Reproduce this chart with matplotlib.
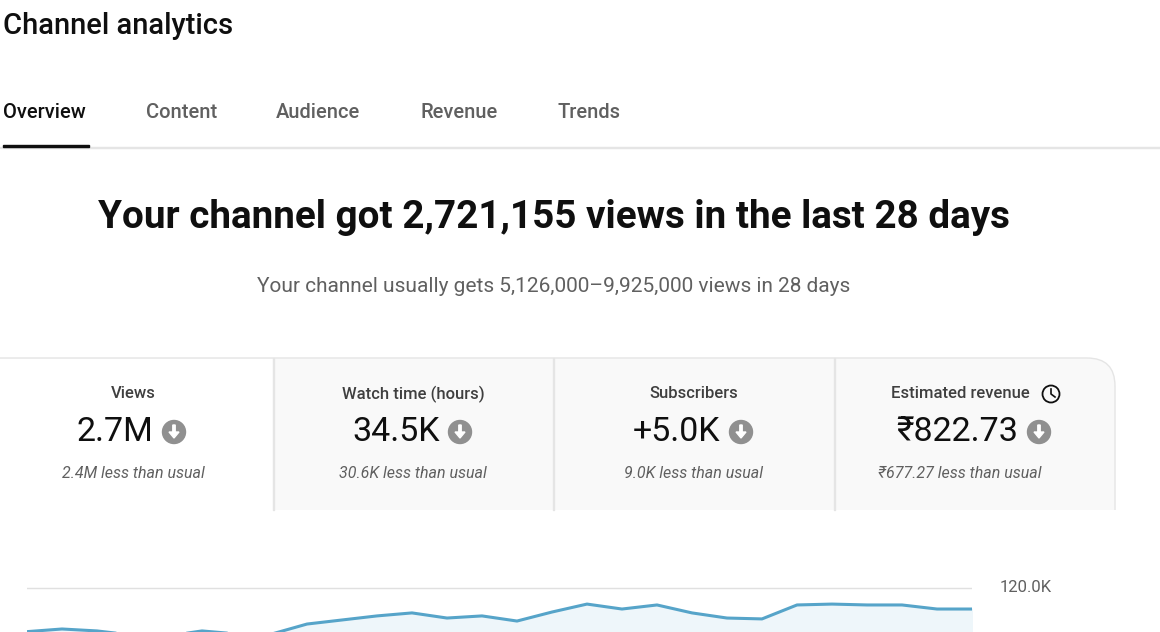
import matplotlib.pyplot as plt
from matplotlib.patches import Rectangle, FancyBboxPatch, Circle, FancyArrow

plt.rcParams['font.family'] = ['Roboto', 'DejaVu Sans']

W, H = 1160, 632

tabs = ['Overview', 'Content', 'Audience', 'Revenue', 'Trends']
tab_x = [3, 146, 276, 420, 557]

card_titles = ['Views', 'Watch time (hours)', 'Subscribers', 'Estimated revenue']
card_values = ['2.7M', '34.5K', '+5.0K', '₹822.73']
card_notes = ['2.4M less than usual', '30.6K less than usual',
              '9.0K less than usual', '₹677.27 less than usual']

views_k = [95.3, 96.8, 95.7, 93.4, 92.8, 95.7, 94.0, 94.0, 99.6, 101.9,
           104.2, 105.9, 103.0, 104.2, 101.3, 106.4, 110.9, 108.1, 110.4, 105.9,
           103.0, 102.5, 110.4, 110.9, 110.4, 110.4, 108.1, 108.1]

fig = plt.figure(figsize=(W / 100, H / 100), dpi=100)
fig.patch.set_facecolor('white')

# pixel-coordinate overlay for the page furniture
bg = fig.add_axes([0, 0, 1, 1], zorder=0)
bg.set_xlim(0, W)
bg.set_ylim(H, 0)
bg.axis('off')


def txt(x, y, s, size, **kw):
    bg.text(x, y, s, fontsize=size, **kw)


txt(3, 26, 'Channel analytics', 21, color='#0f0f0f', va='center', fontweight='medium')

for i, (t, x) in enumerate(zip(tabs, tab_x)):
    txt(x, 113, t, 14.5, va='center', fontweight='medium',
        color='#0f0f0f' if i == 0 else '#606060')
bg.add_patch(Rectangle((0, 147), W, 1, color='#e5e5e5'))
bg.add_patch(Rectangle((3, 144.5), 86, 2.5, color='#0f0f0f'))

txt(554, 218, 'Your channel got 2,721,155 views in the last 28 days', 27.8,
    ha='center', va='center', fontweight='bold', color='#0f0f0f')
txt(554, 286, 'Your channel usually gets 5,126,000\u20139,925,000 views in 28 days', 15,
    ha='center', va='center', color='#606060')

# cards
bg.add_patch(FancyBboxPatch((-30, 358), 1145, 200,
                            boxstyle='round,pad=0,rounding_size=28',
                            facecolor='#f9f9f9', edgecolor='#e5e5e5', lw=1))
bg.add_patch(Rectangle((-2, 359), 275, 160, facecolor='white', edgecolor='none'))
bg.add_patch(Rectangle((-2, 510), 1130, 130, facecolor='white', edgecolor='none'))
for dx in [273, 553, 834]:
    bg.add_patch(Rectangle((dx, 358), 1, 152, color='#e5e5e5'))

centers = [133, 413, 694, 960]
value_x = [115, 396, 677, 957]
icon_x = [174, 460, 741, 1039]
for i, c in enumerate(centers):
    txt(c, 394, card_titles[i], 12, ha='center', va='center', color='#3f3f3f',
        fontweight='medium')
    txt(value_x[i], 432, card_values[i], 24.5, ha='center', va='center', color='#0f0f0f')
    ix = icon_x[i]
    bg.add_patch(Circle((ix, 432), 11.5, color='#909090'))
    bg.add_patch(FancyArrow(ix, 425, 0, 13, width=2.4, head_width=10, head_length=6,
                            color='white', length_includes_head=True))
    txt(c, 473, card_notes[i], 11.5, ha='center', va='center', color='#606060',
        style='italic')
bg.add_patch(Circle((1051, 394), 8.5, facecolor='none', edgecolor='#0f0f0f', lw=1.3))
bg.plot([1051, 1051, 1055], [389, 394, 397], color='#0f0f0f', lw=1.2)
txt(1000, 588, '120.0K', 12, va='center', color='#606060')

# chart (partially visible)
ax = fig.add_axes([27 / W, 0, (972 - 27) / W, (632 - 575) / H], zorder=2)
ax.patch.set_alpha(0)
days = list(range(len(views_k)))
ax.plot(days, views_k, color='#56a4c9', lw=2.2, solid_joinstyle='round')
ax.fill_between(days, views_k, 0, color='#eef6fa')
ax.axhline(120, color='#e0e0e0', lw=1)
top = 120 + 13 * 0.566
bottom = 120 - 44 * 0.566
ax.set_ylim(bottom, top)
ax.set_xlim(0, len(views_k) - 1)
ax.axis('off')

fig.savefig('out.png', dpi=100)
